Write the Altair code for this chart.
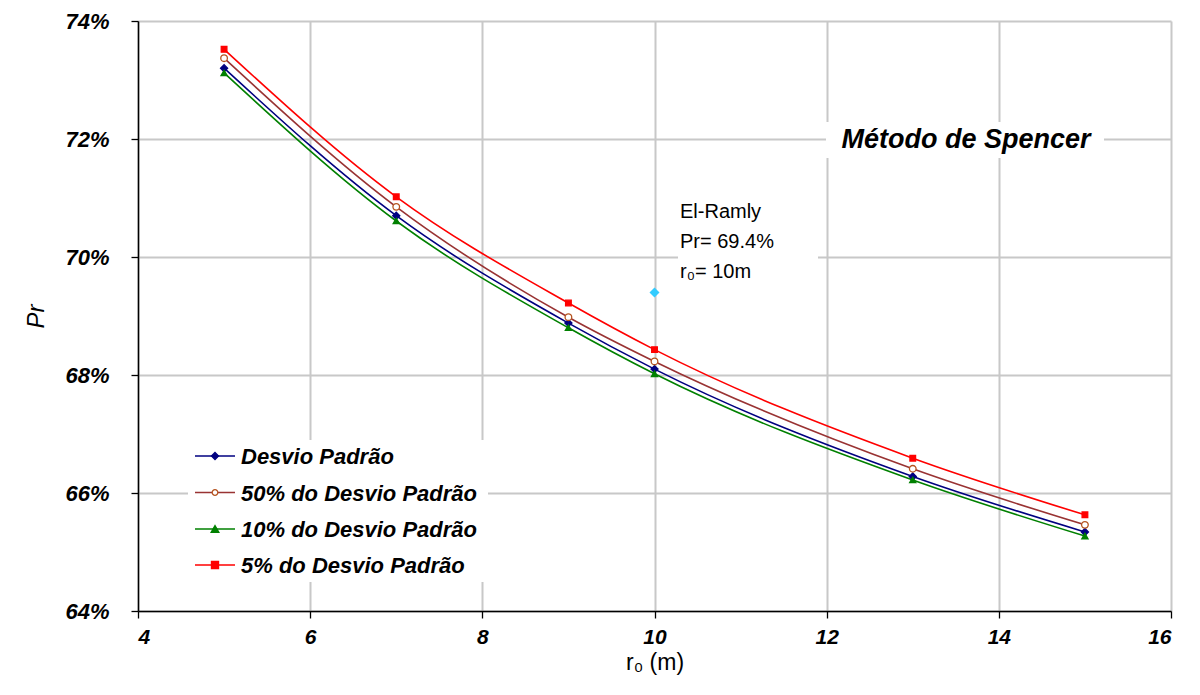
import altair as alt
import pandas as pd

# ---- data ----
r0 = [5, 7, 9, 10, 13, 15]
series_names = ["Desvio Padrão", "50% do Desvio Padrão", "10% do Desvio Padrão", "5% do Desvio Padrão"]
pr_desvio = [73.20, 70.70, 68.88, 68.10, 66.28, 65.34]
pr_50 = [73.37, 70.85, 68.98, 68.23, 66.41, 65.46]
pr_10 = [73.12, 70.61, 68.80, 68.02, 66.22, 65.27]
pr_5 = [73.52, 71.02, 69.22, 68.43, 66.59, 65.63]
elramly_r0 = [10]
elramly_pr = [69.4]
elramly_lines = ["El-Ramly", "Pr= 69.4%", "r₀= 10m"]
method_label = "Método de Spencer"
x_ticks = [4, 6, 8, 10, 12, 14, 16]
y_ticks = [0.64, 0.66, 0.68, 0.70, 0.72, 0.74]

# ---- styles ----
line_colors = ["#000080", "#993333", "#008000", "#FF0000"]
mk_stroke = ["#000080", "#B5531F", "#008000", "#FF0000"]
mk_fill = ["#000080", "#FFFFFF", "#008000", "#FF0000"]
mk_shape = ["diamond", "circle", "triangle-up", "square"]
mk_size = [50, 32, 60, 50]
FONT = "Liberation Sans"
W, H = 1033, 590

rows = []
for name, vals in zip(series_names, [pr_desvio, pr_50, pr_10, pr_5]):
    for x, v in zip(r0, vals):
        rows.append({"r0": x, "pr": v / 100.0, "series": name})
df = pd.DataFrame(rows)
el_df = pd.DataFrame({"r0": elramly_r0, "pr": [v / 100.0 for v in elramly_pr]})

xs = alt.Scale(domain=[4, 16], nice=False, zero=False)
ys = alt.Scale(domain=[0.64, 0.74], nice=False, zero=False)

X = alt.X("r0:Q", scale=xs, title="r₀ (m)",
          axis=alt.Axis(values=x_ticks, format="d", labelPadding=8, titlePadding=4,
                        labelFontSize=21, titleFontSize=23))
Y = alt.Y("pr:Q", scale=ys, title="Pr",
          axis=alt.Axis(values=y_ticks, format=".0%", labelPadding=22, titlePadding=16,
                        labelFontSize=22, titleFontSize=24))

base = alt.Chart(df)

lines = base.mark_line(interpolate="monotone", strokeWidth=1.6).encode(
    x=X, y=Y,
    color=alt.Color("series:N", scale=alt.Scale(domain=series_names, range=line_colors), legend=None),
    detail="series:N",
)
points = base.mark_point(filled=False, strokeWidth=1.3, opacity=1).encode(
    x=X, y=Y,
    stroke=alt.Stroke("series:N", scale=alt.Scale(domain=series_names, range=mk_stroke), legend=None),
    fill=alt.Fill("series:N", scale=alt.Scale(domain=series_names, range=mk_fill), legend=None),
    shape=alt.Shape("series:N", scale=alt.Scale(domain=series_names, range=mk_shape), legend=None),
    size=alt.Size("series:N", scale=alt.Scale(domain=series_names, range=mk_size), legend=None),
)

el_point = alt.Chart(el_df).mark_point(shape="diamond", filled=True, color="#33CCFF", size=100, opacity=1).encode(x=X, y=Y)

# white boxes behind annotations / legend (they hide grid lines as in the original)
def white_box(x1, x2, y1, y2):
    return alt.Chart(pd.DataFrame({"k": [0]})).mark_rect(color="white").encode(
        x=alt.value(x1), x2=alt.value(x2), y=alt.value(y1), y2=alt.value(y2))

box_legend = white_box(50, 350, 419, 561)
box_method = white_box(688, 966, 101, 137)
box_el = white_box(540, 680, 176, 268)

method_text = alt.Chart(pd.DataFrame({"t": [method_label]})).mark_text(
    font=FONT, fontSize=27, fontStyle="italic", fontWeight="bold", color="black",
    align="center", baseline="middle").encode(text="t:N", x=alt.value(828), y=alt.value(119))

el_layers = []
for i, t in enumerate(elramly_lines):
    el_layers.append(alt.Chart(pd.DataFrame({"t": [t]})).mark_text(
        font=FONT, fontSize=20, color="black", align="left", baseline="middle").encode(
        text="t:N", x=alt.value(542), y=alt.value(191 + 30 * i)))

leg_layers = []
leg_y = [435, 471.5, 508, 544]
for i, name in enumerate(series_names):
    d = pd.DataFrame({"t": [name]})
    leg_layers.append(alt.Chart(d).mark_rule(color=line_colors[i], strokeWidth=1.6).encode(
        x=alt.value(57), x2=alt.value(97), y=alt.value(leg_y[i])))
    leg_layers.append(alt.Chart(d).mark_point(shape=mk_shape[i], filled=False, fill=mk_fill[i],
                                              stroke=mk_stroke[i], strokeWidth=1.3, size=mk_size[i], opacity=1).encode(
        x=alt.value(77), y=alt.value(leg_y[i])))
    leg_layers.append(alt.Chart(d).mark_text(font=FONT, fontSize=22, fontStyle="italic", fontWeight="bold",
                                             color="black", align="left", baseline="middle").encode(
        text="t:N", x=alt.value(103), y=alt.value(leg_y[i] + 1)))

chart = alt.layer(
    box_legend, box_method, box_el, lines, points, el_point, method_text, *el_layers, *leg_layers
).properties(
    width=W, height=H,
    autosize=alt.AutoSizeParams(type="none"),
    padding={"left": 138, "top": 21, "right": 29, "bottom": 84},
    background="white",
).configure_view(stroke=None).configure_axis(
    grid=True, gridColor="#C8C8C8", gridWidth=2,
    domainColor="black", domainWidth=1.5, tickColor="black", tickWidth=1.3, tickSize=7,
    labelFont=FONT, labelFontStyle="italic", labelFontWeight="bold", labelColor="black",
    titleFont=FONT, titleColor="black",
).configure_axisY(
    titleFontStyle="italic", titleFontWeight="normal",
).configure_axisX(
    titleFontWeight="normal",
)

chart.save("out.html", embed_options={"renderer": "svg", "actions": False})
